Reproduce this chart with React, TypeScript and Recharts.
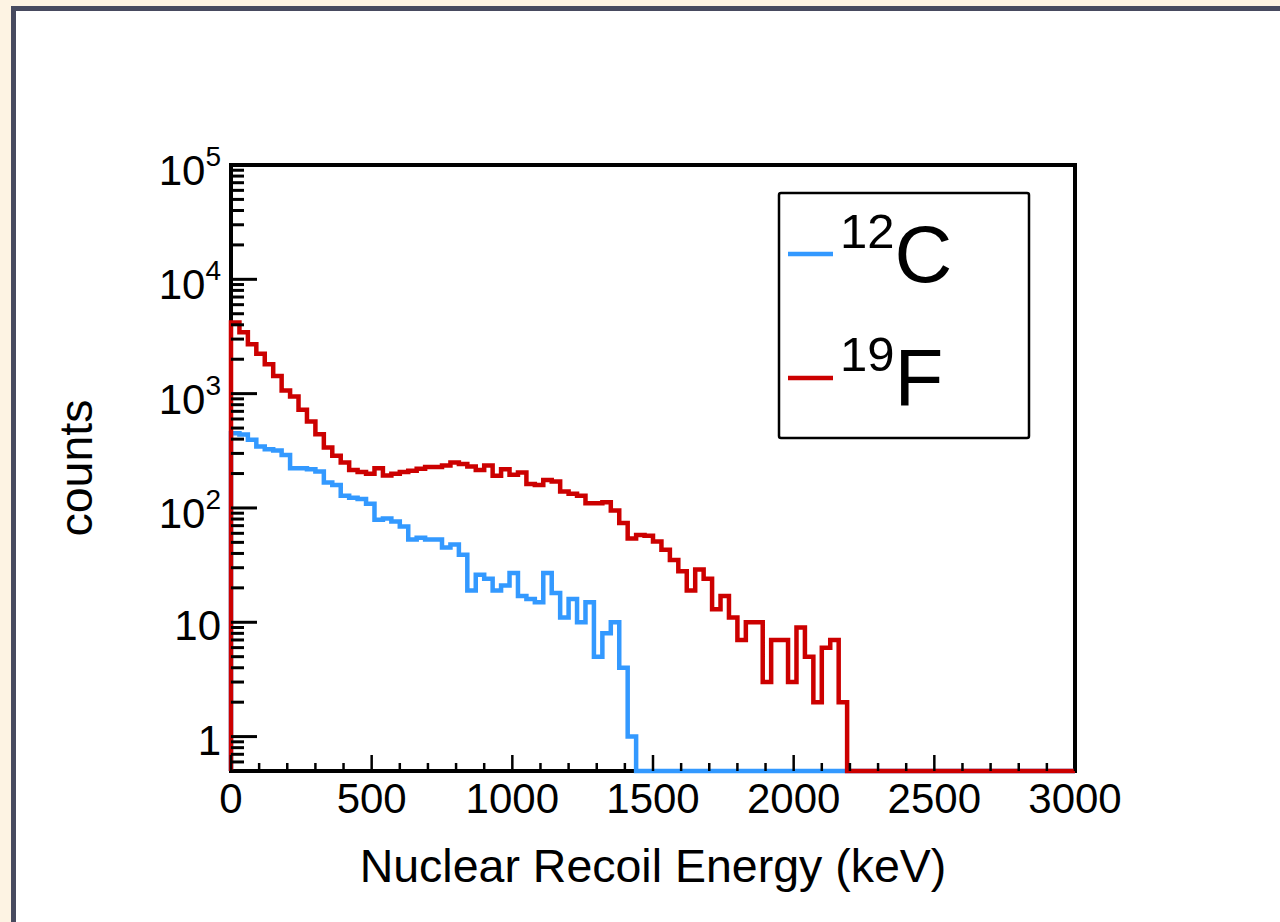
import React from 'react';
import { LineChart, Line, XAxis, YAxis, ReferenceLine, Label } from 'recharts';

// Nuclear recoil energy spectra, 30 keV bins from 0 to 3000 keV.
const BIN_WIDTH = 30;
const N_BINS = 100;
const E_MAX = 3000;

// Counts per bin, starting at 0 keV. Bins beyond the end of a list are empty.
const c12Counts = [
  450, 440, 395, 344, 327, 318, 291, 223, 223, 218,
  208, 167, 159, 128, 123, 120, 109, 79, 81, 76,
  69, 53, 55, 53, 53, 45, 48, 39, 19, 26,
  24, 19, 21, 27, 17, 16, 15, 27, 18, 11,
  16, 10, 15, 5, 8, 10, 4, 1,
];

const f19Counts = [
  4190, 3450, 2710, 2230, 1810, 1430, 1064, 944, 722, 570,
  442, 338, 286, 250, 215, 206, 199, 223, 192, 199,
  206, 212, 220, 228, 228, 235, 250, 242, 230, 215,
  235, 191, 218, 195, 204, 162, 159, 176, 170, 139,
  133, 128, 110, 110, 112, 95, 74, 54, 58, 57,
  51, 43, 35, 28, 19, 29, 24, 13, 17, 11,
  7, 10, 10, 3, 7, 7, 3, 9, 5, 2,
  6, 7, 2,
];

const xMajorTicks = [0, 500, 1000, 1500, 2000, 2500, 3000];
const yMajorTicks = [1, 10, 100, 1000, 10000, 100000];
const Y_MIN = 0.5;
const Y_MAX = 100000;

const C12_COLOR = '#3399ff';
const F19_COLOR = '#cc0000';
const FONT = '"Liberation Sans", Arial, Helvetica, sans-serif';

// minor x ticks every 100 keV, minor y ticks at 2..9 x 10^k
const xTicks: number[] = [];
for (let e = 0; e <= E_MAX; e += 100) xTicks.push(e);

const yTicks: number[] = [];
for (let p = -1; p <= 4; p++) {
  for (let m = 1; m <= 9; m++) {
    const v = m * Math.pow(10, p);
    if (v >= Y_MIN && v <= Y_MAX) yTicks.push(v);
  }
}
yTicks.push(Y_MAX);

// empty bins sit on the bottom of the frame
const level = (n: number) => (n > 0 ? n : Y_MIN);

type Row = { e: number; c12: number; f19: number };
const rows: Row[] = [{ e: 0, c12: Y_MIN, f19: Y_MIN }];
for (let i = 0; i < N_BINS; i++) {
  rows.push({ e: i * BIN_WIDTH, c12: level(c12Counts[i] ?? 0), f19: level(f19Counts[i] ?? 0) });
}
rows.push({
  e: E_MAX,
  c12: level(c12Counts[N_BINS - 1] ?? 0),
  f19: level(f19Counts[N_BINS - 1] ?? 0),
});

function XTick(props: any) {
  const { x, y, payload } = props;
  const v = payload.value as number;
  const major = xMajorTicks.includes(v);
  return (
    <g>
      <line x1={x} x2={x} y1={y} y2={y - (major ? 16 : 8)} stroke="#000" strokeWidth={2.5} />
      {major && (
        <text x={x} y={y + 42} textAnchor="middle" fontSize={42} fontFamily={FONT} fill="#000">
          {v}
        </text>
      )}
    </g>
  );
}

function YTick(props: any) {
  const { x, y, payload } = props;
  const v = payload.value as number;
  const lg = Math.log10(v);
  const exp = Math.round(lg);
  const major = Math.abs(lg - exp) < 1e-6 && yMajorTicks.includes(Math.pow(10, exp));
  return (
    <g>
      <line x1={x} x2={x + (major ? 26 : 13)} y1={y} y2={y} stroke="#000" strokeWidth={3} />
      {major &&
        (exp <= 1 ? (
          <text x={x - 10} y={y + 18} textAnchor="end" fontSize={42} fontFamily={FONT} fill="#000">
            {String(Math.pow(10, exp))}
          </text>
        ) : (
          <text x={x - 10} y={y + 20} textAnchor="end" fontSize={42} fontFamily={FONT} fill="#000">
            <tspan>10</tspan>
            <tspan dy={-19} fontSize={28}>
              {exp}
            </tspan>
          </text>
        ))}
    </g>
  );
}

function XTitle(props: any) {
  const vb = props.viewBox;
  return (
    <text
      x={vb.x + vb.width / 2}
      y={vb.y + 111}
      textAnchor="middle"
      fontSize={46.5}
      fontFamily={FONT}
      fill="#000"
    >
      Nuclear Recoil Energy (keV)
    </text>
  );
}

function YTitle(props: any) {
  const vb = props.viewBox;
  const cx = vb.x + vb.width - 139;
  const cy = vb.y + vb.height / 2;
  return (
    <text
      x={cx}
      y={cy}
      transform={`rotate(-90, ${cx}, ${cy})`}
      textAnchor="middle"
      fontSize={46.5}
      fontFamily={FONT}
      fill="#000"
    >
      counts
    </text>
  );
}

function LegendBox() {
  return (
    <svg
      width={254}
      height={250}
      style={{ position: 'absolute', left: 777, top: 191 }}
      fontFamily={FONT}
    >
      <rect x={2} y={2} width={250} height={245} fill="#fff" stroke="#000" strokeWidth={2.5} rx={2} />
      <line x1={11} x2={56} y1={63} y2={63} stroke={C12_COLOR} strokeWidth={4.5} />
      <text x={63} y={91} fontSize={80} fill="#000">
        <tspan dy={-34} fontSize={49}>12</tspan>
        <tspan dy={34}>C</tspan>
      </text>
      <line x1={11} x2={56} y1={187} y2={187} stroke={F19_COLOR} strokeWidth={4.5} />
      <text x={63} y={214} fontSize={80} fill="#000">
        <tspan dy={-34} fontSize={49}>19</tspan>
        <tspan dy={34}>F</tspan>
      </text>
    </svg>
  );
}

const frameLine = { stroke: '#000', strokeWidth: 4, strokeLinecap: 'square' as const };

export default function App() {
  return (
    <div
      style={{
        position: 'absolute',
        left: 0,
        top: 0,
        width: 1280,
        height: 922,
        background: '#fdf3e3',
        overflow: 'hidden',
      }}
    >
      <div
        style={{
          position: 'absolute',
          left: 11,
          top: 6,
          right: 0,
          bottom: 0,
          background: '#ffffff',
          borderLeft: '5px solid #474a5f',
          borderTop: '5px solid #474a5f',
        }}
      />
      <LineChart
        width={1280}
        height={922}
        data={rows}
        margin={{ top: 165, right: 205, bottom: 0, left: 0 }}
        style={{ position: 'absolute', left: 0, top: 0 }}
      >
        <XAxis
          dataKey="e"
          type="number"
          domain={[0, E_MAX]}
          ticks={xTicks}
          interval={0}
          height={151}
          tickSize={0}
          tickMargin={0}
          tickLine={false}
          tick={<XTick />}
          axisLine={frameLine}
          zIndex={100}
        >
          <Label content={<XTitle />} />
        </XAxis>
        <YAxis
          type="number"
          scale="log"
          domain={[Y_MIN, Y_MAX]}
          ticks={yTicks}
          interval={0}
          width={231}
          tickSize={0}
          tickMargin={0}
          tickLine={false}
          tick={<YTick />}
          axisLine={frameLine}
          zIndex={100}
        >
          <Label content={<YTitle />} />
        </YAxis>
        <ReferenceLine y={Y_MAX} {...frameLine} zIndex={100} />
        <ReferenceLine x={E_MAX} {...frameLine} zIndex={100} />
        <Line
          type="stepAfter"
          dataKey="c12"
          stroke={C12_COLOR}
          strokeWidth={4.5}
          strokeLinejoin="miter"
          dot={false}
          activeDot={false}
          isAnimationActive={false}
          zIndex={900}
        />
        <Line
          type="stepAfter"
          dataKey="f19"
          stroke={F19_COLOR}
          strokeWidth={4.5}
          strokeLinejoin="miter"
          dot={false}
          activeDot={false}
          isAnimationActive={false}
          zIndex={1000}
        />
      </LineChart>
      <LegendBox />
    </div>
  );
}
